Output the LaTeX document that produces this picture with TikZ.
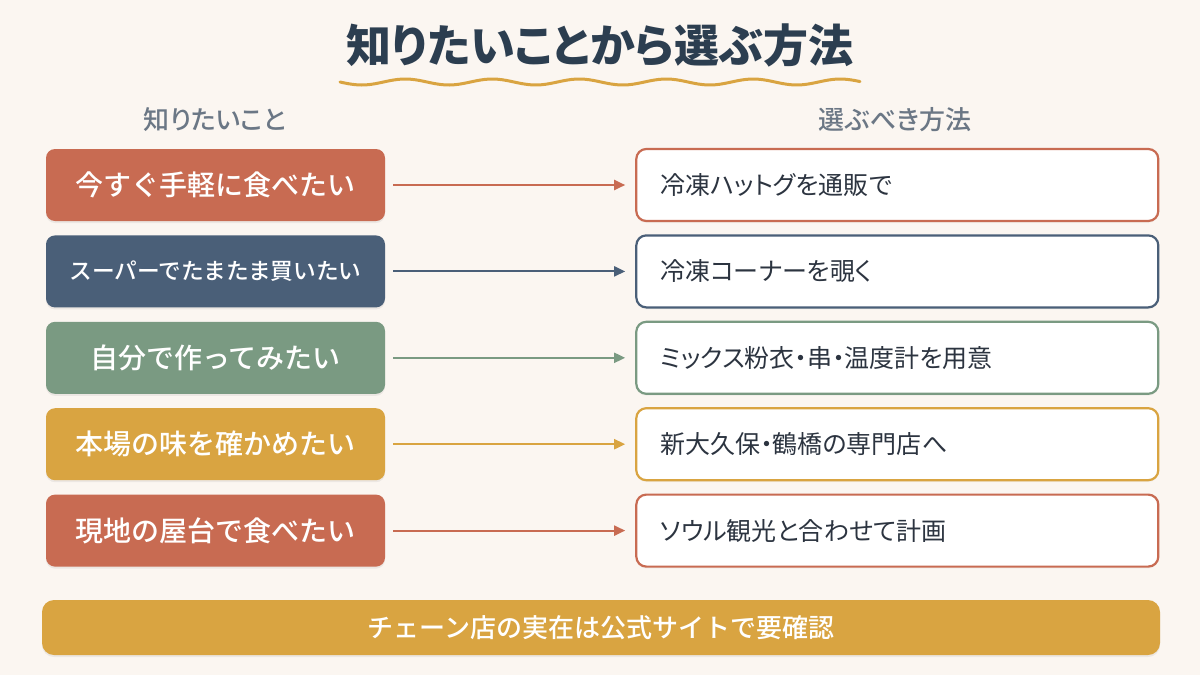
\documentclass[tikz,border=0pt]{standalone}
\usepackage{fontspec}
\setmainfont{Noto Sans CJK JP}
\newfontfamily\jpmed{Noto Sans CJK JP Medium}
\newfontfamily\jpprop{Noto Sans CJK JP}[RawFeature=+palt]
\newfontfamily\jpmedprop{Noto Sans CJK JP Medium}[RawFeature=+palt]
\usepackage{xcolor}
\usetikzlibrary{positioning, arrows.meta, shadows}
\definecolor{bgpaper}{HTML}{FBF6F1}
\definecolor{terra}{HTML}{C86B52}
\definecolor{navy}{HTML}{4A5F78}
\definecolor{sage}{HTML}{7A9A82}
\definecolor{mustard}{HTML}{D9A441}
\definecolor{titleink}{HTML}{2C3E50}
\definecolor{headink}{HTML}{6B7785}
\definecolor{bodyink}{HTML}{2C3440}

\begin{document}
\begin{tikzpicture}[
    x=1pt, y=-1pt,
    node distance=14pt and 250pt,
    want/.style={rectangle, fill=#1, text=white, rounded corners=9pt,
                 minimum width=339pt, minimum height=72pt, inner sep=0pt,
                 font=\jpmed\fontsize{28}{32}\selectfont,
                 drop shadow={shadow xshift=0pt, shadow yshift=-2pt, opacity=0.12}},
    way/.style={rectangle, draw=#1, line width=2.2pt, fill=white, text=bodyink,
                rounded corners=10pt, minimum width=522pt, minimum height=72pt,
                text width=474pt, align=left, inner xsep=24pt,
                font=\jpprop\fontsize{25}{29}\selectfont,
                drop shadow={shadow xshift=0pt, shadow yshift=-2pt, opacity=0.06}},
    link/.style={-{Triangle[length=11pt, width=10pt]}, line width=2pt, #1,
                 shorten <=8pt, shorten >=10pt},
    colhead/.style={text=headink, font=\jpmedprop\fontsize{26}{30}\selectfont},
    wave/.style={mustard, line width=3pt, line cap=round}
  ]
    \useasboundingbox[fill=bgpaper] (0,0) rectangle (1200,675);

    % title
    \node[text=titleink, font=\jpprop\fontsize{45}{52}\selectfont\bfseries] (title) at (600,45) {知りたいことから選ぶ方法};
    \draw[wave] plot[domain=0:520, samples=120] ({340+\x}, {82+3*sin(\x*4.138)});

    % column heads
    \node[colhead] (lefthead) at (215,120) {知りたいこと};
    \node[colhead] (righthead) at (895,120) {選ぶべき方法};

    % what you want
    \node[want=terra] (now) at (215.5,185) {今すぐ手軽に食べたい};
    \node[want=navy, below=of now, font=\jpmed\fontsize{22.7}{27}\selectfont] (super) {スーパーでたまたま買いたい};
    \node[want=sage, below=of super] (diy) {自分で作ってみたい};
    \node[want=mustard, below=of diy] (real) {本場の味を確かめたい};
    \node[want=terra, below=of real] (stall) {現地の屋台で食べたい};

    % how to get it
    \node[way=terra, right=of now] (mail) {冷凍ハットグを通販で};
    \node[way=navy, right=of super] (freezer) {冷凍コーナーを覗く};
    \node[way=sage, right=of diy] (kit) {ミックス粉衣・串・温度計を用意};
    \node[way=mustard, right=of real] (shop) {新大久保・鶴橋の専門店へ};
    \node[way=terra, right=of stall] (seoul) {ソウル観光と合わせて計画};

    \draw[link=terra] (now) -- (mail);
    \draw[link=navy] (super) -- (freezer);
    \draw[link=sage] (diy) -- (kit);
    \draw[link=mustard] (real) -- (shop);
    \draw[link=terra] (stall) -- (seoul);

    % note
    \node[rectangle, fill=mustard, text=white, rounded corners=12pt,
          minimum width=1118pt, minimum height=55pt,
          font=\jpmed\fontsize{26}{30}\selectfont,
          drop shadow={shadow xshift=0pt, shadow yshift=-2pt, opacity=0.12}]
          (note) at (601,627.5) {チェーン店の実在は公式サイトで要確認};
\end{tikzpicture}
\end{document}
